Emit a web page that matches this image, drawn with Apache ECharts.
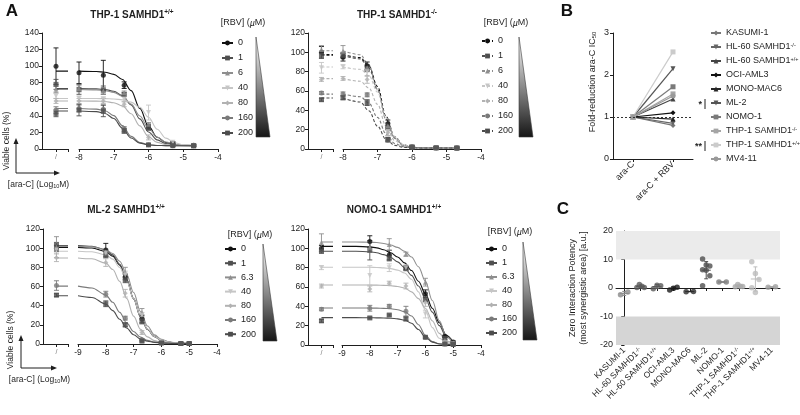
<!DOCTYPE html>
<html>
<head>
<meta charset="utf-8">
<script src="https://cdn.jsdelivr.net/npm/echarts@6/dist/echarts.min.js"></script>
<style>
  html, body { margin: 0; padding: 0; background: #fff; }
  #chart { width: 800px; height: 415px; }
</style>
</head>
<body>
<div id="chart"></div>
<script>
const FONT = '"Liberation Sans", Arial, Helvetica, sans-serif';
const INK = '#1e1e1e';

// ---------- A: viable cells vs ara-C, one curve per ribavirin dose ----------
const dosesThp = ['0', '1', '6', '40', '80', '160', '200'];
const dosesMl = ['0', '1', '6.3', '40', '80', '160', '200'];
const araCThp = [-8, -7.3, -6.7, -6, -5.3, -4.7];   // log10 M
const araCMl = [-8, -7.3, -6.7, -6, -5.3, -5];
const fitXThp = [-8, -7.5, -7.25, -7, -6.75, -6.5, -6.25, -6, -5.75, -5.5, -5.25, -5, -4.7];
const fitXMl = [-9, -8.5, -8, -7.75, -7.5, -7.25, -7, -6.75, -6.5, -6.25, -6, -5.75, -5.5, -5.25, -5];

// THP-1 SAMHD1+/+
const thpPosCtrl = [100, 78, 72, 64, 58, 47, 43];
const thpPosCtrlSd = [22, 6, 4, 3, 3, 4, 4];
const thpPosMean = [
  [92, 89, 77, 27, 7, 4.5],
  [72, 71, 66, 25, 6, 4],
  [73, 70, 68, 30, 6, 4],
  [61, 60, 60, 44, 8, 4],
  [58, 58, 54, 14, 5, 4],
  [49, 48, 24, 5, 4, 4],
  [47, 46, 22, 5, 4, 4]
];
const thpPosSd = [
  [13, 18, 4, 3, 2, 1],
  [6, 5, 2, 2, 1, 1],
  [4, 4, 2, 2, 1, 1],
  [3, 3, 3, 9, 1, 1],
  [3, 3, 3, 3, 1, 1],
  [4, 5, 3, 1, 1, 1],
  [7, 7, 3, 1, 1, 1]
];
const thpPosFit = [
  [94, 93.5, 92.6, 90.1, 83.9, 70.4, 49, 27.6, 14.1, 7.9, 5.4, 4.5, 4.1],
  [72.9, 72.6, 71.8, 69.7, 64.4, 53.3, 36.4, 20.6, 11, 6.6, 5, 4.3, 4.1],
  [71.9, 71.4, 70.5, 68.4, 63.6, 54.2, 39.9, 25, 14.3, 8.5, 5.8, 4.7, 4.2],
  [61, 60.9, 60.8, 60.4, 59.3, 56.6, 50.2, 38.3, 23.9, 13.1, 7.6, 5.3, 4.3],
  [58, 57.8, 57.3, 55.9, 52, 42.6, 27.9, 14.9, 8, 5.3, 4.4, 4.1, 4],
  [48.9, 48.1, 46.2, 40.3, 28.2, 15.2, 7.8, 5.2, 4.3, 4.1, 4, 4, 4],
  [45.9, 45.1, 42.9, 36.8, 25, 13.2, 7.1, 4.9, 4.3, 4.1, 4, 4, 4]
];

// THP-1 SAMHD1-/-
const thpNegCtrl = [100, 97, 103, 84, 72, 58, 51];
const thpNegCtrlSd = [6, 3, 4, 5.5, 2, 1.5, 1.5];
const thpNegMean = [
  [95, 86, 26, 2, 1.5, 1],
  [97, 83, 22, 2, 1.5, 1],
  [101, 84, 24, 2.5, 1.5, 1],
  [85, 80, 18, 2, 1, 1],
  [73, 72, 17, 2, 1, 1],
  [57, 56, 9, 2, 1, 1],
  [53, 48, 10, 2, 1, 1]
];
const thpNegSd = [
  [4, 4, 4, 1, 1, 1],
  [3, 3, 2, 1, 1, 1],
  [6, 3, 3, 1, 1, 1],
  [2, 5, 4, 1, 1, 1],
  [2, 4, 3, 1, 1, 1],
  [2, 2, 2, 1, 1, 1],
  [2, 3, 2, 1, 1, 1]
];
const thpNegFit = [
  [97.7, 94.5, 86, 64.6, 33.4, 12.5, 4.3, 1.9, 1.2, 1, 1, 1, 1],
  [96.7, 93.2, 83.8, 61.4, 31, 11.3, 4, 1.8, 1.2, 1, 1, 1, 1],
  [101.7, 97.5, 87, 61.8, 30.2, 10.8, 3.8, 1.8, 1.2, 1, 1, 1, 1],
  [84.8, 82.4, 76, 58.9, 32.2, 12.5, 4.4, 1.9, 1.2, 1, 1, 1, 1],
  [72.8, 70.1, 63.1, 46.3, 23.5, 8.7, 3.2, 1.6, 1.1, 1, 1, 1, 1],
  [56.8, 54.1, 47.5, 32.7, 15.4, 5.7, 2.3, 1.4, 1.1, 1, 1, 1, 1],
  [52.7, 48.6, 39.6, 23.6, 9.8, 3.7, 1.7, 1.2, 1, 1, 1, 1, 1]
];

// ML-2 SAMHD1+/+
const ml2Ctrl = [100, 103, 101, 98, 90, 61, 51];
const ml2CtrlSd = [3, 3, 11, 3, 4, 5, 1.5];
const ml2Mean = [
  [98, 70, 26, 1.5, 0.5, 0.5],
  [93, 67, 24, 1.5, 0.5, 0.5],
  [96, 75, 33, 2, 0.5, 0.5],
  [95, 72, 30, 1.5, 0.5, 0.5],
  [85, 53, 12, 1, 0.5, 0.5],
  [52, 27, 4, 1, 0.5, 0.5],
  [42, 20, 3, 1, 0.5, 0.5]
];
const ml2Sd = [
  [7, 3, 4, 1, 0.5, 0.5],
  [3, 3, 3, 1, 0.5, 0.5],
  [3, 5, 4, 1, 0.5, 0.5],
  [3, 4, 3, 1, 0.5, 0.5],
  [4, 4, 2, 1, 0.5, 0.5],
  [3, 2, 1, 1, 0.5, 0.5],
  [3, 2, 1, 1, 0.5, 0.5]
];
const ml2Fit = [
  [100.8, 100.1, 96.6, 91.7, 82.3, 66.9, 47.5, 28.6, 15.4, 8, 3.9, 2.1, 1.2, 0.8, 0.6],
  [102.8, 102, 98.3, 93, 83.2, 67.2, 46.8, 28.3, 15.1, 7.6, 3.8, 2, 1.2, 0.8, 0.6],
  [101.9, 101.3, 98.4, 94.4, 86.4, 72.7, 53.7, 33.9, 18.8, 9.5, 4.8, 2.4, 1.4, 0.9, 0.7],
  [96.8, 96.2, 93, 88.6, 80, 65.7, 47.2, 28.9, 15.7, 7.9, 4, 2, 1.2, 0.8, 0.6],
  [89.8, 88.9, 84.4, 77.7, 65.4, 47.6, 29.1, 15.3, 7.4, 3.5, 1.8, 1.1, 0.7, 0.6, 0.5],
  [60.4, 58.5, 51.2, 43.5, 33, 22, 13, 7.2, 3.8, 2.1, 1.3, 0.9, 0.7, 0.6, 0.5],
  [50.4, 48.6, 41.8, 34.8, 25.8, 16.7, 9.7, 5.3, 2.9, 1.7, 1.1, 0.8, 0.6, 0.55, 0.5]
];

// NOMO-1 SAMHD1+/+
const nomoCtrl = [100, 97, 106, 80, 61, 37, 25];
const nomoCtrlSd = [3, 2, 9, 2, 2, 1.5, 1.5];
const nomoMean = [
  [107, 93, 80, 53, 9, 3],
  [98, 90, 79, 48, 7, 2],
  [101, 104, 94, 65, 5, 1.5],
  [72, 80, 80, 32, 2, 1],
  [58, 64, 61, 44, 2, 1],
  [38, 40, 35, 8, 1, 0.5],
  [28, 31, 27, 8, 1, 0.5]
];
const nomoSd = [
  [6, 5, 2, 4, 1, 1],
  [10, 3, 2, 3, 1, 1],
  [5, 6, 2, 4, 1, 1],
  [10, 4, 3, 4, 1, 1],
  [3, 2, 3, 4, 1, 1],
  [3, 2, 5, 1, 1, 0.5],
  [1, 1, 2, 1, 1, 0.5]
];
const nomoFit = [
  [102, 102, 101.5, 100.5, 98.5, 95.5, 91, 85, 77, 66, 53, 38, 23, 10, 3],
  [97, 97, 96.5, 95.5, 93.5, 90.5, 86, 80, 72, 61, 48, 34, 20, 8.5, 2.5],
  [106.5, 106.5, 106.3, 106, 105, 103.5, 101, 97, 91, 81, 66, 46, 25, 9, 2],
  [80.5, 80.5, 80.4, 80.2, 79.8, 79, 77.5, 74.5, 68, 55, 36, 18, 7, 2.5, 1],
  [62, 62, 62, 61.9, 61.7, 61.3, 60.5, 59, 55, 48, 38, 25, 12, 4, 1.5],
  [38.3, 38.3, 38.2, 38.1, 37.9, 37.5, 36.5, 34.5, 30, 21, 10, 3.5, 1.3, 0.7, 0.5],
  [28.3, 28.3, 28.2, 28.1, 28, 27.7, 27, 25.8, 22.5, 16, 8, 3, 1.1, 0.6, 0.5]
];

// ---------- B: fold-reduction of ara-C IC50 ----------
const cellLines = ['KASUMI-1', 'HL-60 SAMHD1-/-', 'HL-60 SAMHD1+/+', 'OCI-AML3', 'MONO-MAC6',
  'ML-2', 'NOMO-1', 'THP-1 SAMHD1-/-', 'THP-1 SAMHD1+/+', 'MV4-11'];
const foldCats = ['ara-C', 'ara-C + RBV'];
const foldAraC = [1, 1, 1, 1, 1, 1, 1, 1, 1, 1];
const foldAraCRbv = [0.8, 0.85, 1.43, 1.1, 0.95, 2.15, 1.72, 1.55, 2.55, 1.5];

// ---------- C: ZIP synergy scores ----------
const zipScores = [
  [-2.4, -1.4],
  [0.2, 1.2, 0.6, 0.2],
  [-0.3, 1.0, 0.8],
  [-0.7, -0.1, 0.3],
  [-1.3, -1.2],
  [10.2, 8.1, 7.7, 6.4, 6.2, 4.3, 0.8],
  [2.1, 2.1],
  [0.4, 1.2, 0.6, 0.5],
  [9.2, 5.1, 3.0, 0.1, -1.6],
  [0.3, 0.4]
];

// ---------- styles & layout ----------
const doseColor = ['#111111', '#4f4f4f', '#8e8e8e', '#c6c6c6', '#b2b2b2', '#7a7a7a', '#4c4c4c'];
const doseSymbol = ['circle', 'rect', 'triangle', 'triangle', 'diamond', 'circle', 'rect'];
const doseRotate = [0, 0, 0, 180, 0, 0, 0];
const lineColor = ['#777777', '#666666', '#444444', '#111111', '#262626', '#555555', '#7a7a7a', '#a5a5a5', '#cbcbcb', '#999999'];
const lineSymbol = ['diamond', 'triangle', 'triangle', 'diamond', 'triangle', 'triangle', 'rect', 'rect', 'rect', 'circle'];
const lineRotate = [0, 180, 0, 0, 0, 180, 0, 0, 0, 0];
const zipColor = ['#8a8a8a', '#5a5a5a', '#5a5a5a', '#1a1a1a', '#2a2a2a', '#4d4d4d', '#7a7a7a', '#aaaaaa', '#bdbdbd', '#a0a0a0'];

const CTRL_X = -10, CTRL_LO = -10.7, CTRL_HI = -9.4;

const panelsA = [
  { key: 'TL', title: 'THP-1 SAMHD1', sup: '+/+', doses: dosesThp, x: araCThp, fitX: fitXThp, ctrl: thpPosCtrl, ctrlSd: thpPosCtrlSd, mean: thpPosMean, sd: thpPosSd, fit: thpPosFit, xMin: -8, yMax: 140, dashed: false },
  { key: 'TR', title: 'THP-1 SAMHD1', sup: '-/-', doses: dosesThp, x: araCThp, fitX: fitXThp, ctrl: thpNegCtrl, ctrlSd: thpNegCtrlSd, mean: thpNegMean, sd: thpNegSd, fit: thpNegFit, xMin: -8, yMax: 120, dashed: true },
  { key: 'BL', title: 'ML-2 SAMHD1', sup: '+/+', doses: dosesMl, x: araCMl, fitX: fitXMl, ctrl: ml2Ctrl, ctrlSd: ml2CtrlSd, mean: ml2Mean, sd: ml2Sd, fit: ml2Fit, xMin: -9, yMax: 120, dashed: false },
  { key: 'BR', title: 'NOMO-1 SAMHD1', sup: '+/+', doses: dosesMl, x: araCMl, fitX: fitXMl, ctrl: nomoCtrl, ctrlSd: nomoCtrlSd, mean: nomoMean, sd: nomoSd, fit: nomoFit, xMin: -9, yMax: 120, dashed: false }
];
const layoutA = [
  { ctrl: [42, 68], main: [79, 218], y: [33, 149], title: [132, 15], leg: [221, 38], gap: 5, rbv: [243, 23], tri: [256, 37, 137] },
  { ctrl: [308, 333], main: [343, 481], y: [33, 149], title: [397, 15], leg: [481, 36], gap: 5, rbv: [506, 23], tri: [519, 37, 137] },
  { ctrl: [43, 68], main: [78, 217], y: [229, 344], title: [126, 210], leg: [224, 244], gap: 4.2, rbv: [250, 235], tri: [263, 244, 341] },
  { ctrl: [308, 333], main: [342, 481], y: [229, 345], title: [394, 210], leg: [485, 244], gap: 4, rbv: [510, 232], tri: [523, 242, 340] }
];

const supFmt = s => s.replace(/(\+\/\+|-\/-)$/, '{s|$1}');
const axisLine = { show: true, lineStyle: { color: INK, width: 1 } };
const axisTick = { show: true, length: 3, lineStyle: { color: INK, width: 1 } };

function errorBars(axisIndex, rows, color) {
  return {
    type: 'custom', xAxisIndex: axisIndex, yAxisIndex: axisIndex, data: rows, silent: true, z: 3,
    renderItem: (params, api) => {
      const x = api.value(0), y = api.value(1), e = api.value(2);
      if (!(e > 0)) return;
      const hi = api.coord([x, y + e]), lo = api.coord([x, y - e]);
      const st = { stroke: color, lineWidth: 0.9 };
      return { type: 'group', children: [
        { type: 'line', shape: { x1: hi[0], y1: hi[1], x2: lo[0], y2: lo[1] }, style: st },
        { type: 'line', shape: { x1: hi[0] - 2.5, y1: hi[1], x2: hi[0] + 2.5, y2: hi[1] }, style: st },
        { type: 'line', shape: { x1: lo[0] - 2.5, y1: lo[1], x2: lo[0] + 2.5, y2: lo[1] }, style: st }
      ] };
    }
  };
}

const option = {
  animation: false,
  backgroundColor: '#ffffff',
  textStyle: { fontFamily: FONT },
  grid: [], xAxis: [], yAxis: [], series: [], legend: [], graphic: []
};

const gradient = () => new echarts.graphic.LinearGradient(0, 0, 0, 1, [
  { offset: 0, color: '#ffffff' }, { offset: 1, color: '#151515' }
]);

panelsA.forEach((p, i) => {
  const L = layoutA[i];
  const gc = option.grid.length, gm = gc + 1;
  const h = L.y[1] - L.y[0];
  option.grid.push({ left: L.ctrl[0], top: L.y[0], width: L.ctrl[1] - L.ctrl[0], height: h, outerBoundsMode: 'none' });
  option.grid.push({ left: L.main[0], top: L.y[0], width: L.main[1] - L.main[0], height: h, outerBoundsMode: 'none' });
  option.xAxis.push({
    gridIndex: gc, type: 'value', min: CTRL_LO, max: CTRL_HI, axisLine,
    axisTick: Object.assign({}, axisTick, { customValues: [CTRL_X, CTRL_HI] }),
    axisLabel: { customValues: [CTRL_X], formatter: () => '/', fontSize: 7, color: '#777', margin: 5 },
    splitLine: { show: false }
  });
  option.xAxis.push({
    gridIndex: gm, type: 'value', min: p.xMin, max: -4, interval: 1, axisLine, axisTick,
    axisLabel: { fontSize: 8.5, color: INK, margin: 4, showMinLabel: true, showMaxLabel: true },
    splitLine: { show: false }
  });
  option.yAxis.push({
    gridIndex: gc, type: 'value', min: 0, max: p.yMax, interval: 20, axisLine, axisTick,
    axisLabel: { fontSize: 8.5, color: INK, margin: 3, showMaxLabel: true }, splitLine: { show: false }
  });
  option.yAxis.push({ gridIndex: gm, type: 'value', min: 0, max: p.yMax, show: false });

  p.doses.forEach((dose, k) => {
    const col = doseColor[k], sym = doseSymbol[k], rot = doseRotate[k];
    const ls = { color: col, width: 1.1, type: p.dashed ? [3, 2] : 'solid' };
    const top = p.fit[k][0];
    option.series.push({
      name: p.key + '|' + dose, type: 'line', xAxisIndex: gm, yAxisIndex: gm,
      data: p.fitX.map((x, j) => [x, p.fit[k][j]]),
      smooth: 0.35, smoothMonotone: 'x', showSymbol: false, symbol: sym, symbolRotate: rot, symbolSize: 5,
      lineStyle: ls, itemStyle: { color: col }, silent: true, z: 2
    });
    option.series.push({
      type: 'line', xAxisIndex: gc, yAxisIndex: gc, data: [[CTRL_X, top], [CTRL_HI, top]],
      showSymbol: false, symbol: 'none', lineStyle: ls, silent: true, z: 2
    });
    option.series.push({
      type: 'scatter', xAxisIndex: gm, yAxisIndex: gm, data: p.x.map((x, j) => [x, p.mean[k][j]]),
      symbol: sym, symbolRotate: rot, symbolSize: 5, itemStyle: { color: col }, silent: true, z: 4
    });
    option.series.push({
      type: 'scatter', xAxisIndex: gc, yAxisIndex: gc, data: [[CTRL_X, p.ctrl[k]]],
      symbol: sym, symbolRotate: rot, symbolSize: 5, itemStyle: { color: col }, silent: true, z: 4
    });
    option.series.push(errorBars(gm, p.x.map((x, j) => [x, p.mean[k][j], p.sd[k][j]]), col));
    option.series.push(errorBars(gc, [[CTRL_X, p.ctrl[k], p.ctrlSd[k]]], col));
  });

  option.legend.push({
    orient: 'vertical', left: L.leg[0], top: L.leg[1], itemWidth: 11, itemHeight: 6, itemGap: L.gap,
    padding: 0, selectedMode: false, data: p.doses.map(d => p.key + '|' + d),
    formatter: n => n.split('|')[1],
    textStyle: { fontSize: 9, lineHeight: 10, color: INK, fontFamily: FONT }
  });

  option.graphic.push({
    type: 'text', x: L.title[0], y: L.title[1], silent: true,
    style: {
      text: '{b|' + p.title + '}{s|' + p.sup + '}', align: 'center', verticalAlign: 'middle',
      rich: {
        b: { fontSize: 10, fontWeight: 'bold', fontFamily: FONT, fill: INK, lineHeight: 12 },
        s: { fontSize: 6.5, fontWeight: 'bold', fontFamily: FONT, fill: INK, lineHeight: 7, verticalAlign: 'top' }
      }
    }
  });
  option.graphic.push({
    type: 'text', x: L.rbv[0], y: L.rbv[1], silent: true,
    style: {
      text: '[RBV] ({i|µ}M)', align: 'center', verticalAlign: 'middle', fontSize: 9, fontFamily: FONT, fill: INK,
      rich: { i: { fontSize: 9, fontStyle: 'italic', fontFamily: FONT, fill: INK } }
    }
  });
  const t = L.tri;
  option.graphic.push({
    type: 'polygon', silent: true,
    shape: { points: [[t[0], t[1]], [t[0], t[2]], [t[0] + 14, t[2]]] },
    style: { fill: gradient(), stroke: '#3a3a3a', lineWidth: 0.6 }
  });
});

// "Viable cells / [ara-C]" key arrows next to the left-hand panels
function axisKey(ox, oy, up, right, tx, ty) {
  const st = { stroke: INK, lineWidth: 1 };
  return [
    { type: 'line', silent: true, shape: { x1: ox, y1: oy, x2: ox, y2: up + 3 }, style: st },
    { type: 'polygon', silent: true, shape: { points: [[ox, up - 1], [ox - 2.5, up + 5], [ox + 2.5, up + 5]] }, style: { fill: INK } },
    { type: 'line', silent: true, shape: { x1: ox, y1: oy, x2: right - 3, y2: oy }, style: st },
    { type: 'polygon', silent: true, shape: { points: [[right + 1, oy], [right - 5, oy - 2.5], [right - 5, oy + 2.5]] }, style: { fill: INK } },
    { type: 'text', silent: true, x: tx, y: ty, rotation: Math.PI / 2,
      style: { text: 'Viable cells (%)', align: 'center', verticalAlign: 'middle', fontSize: 8.5, fontFamily: FONT, fill: INK } },
    { type: 'text', silent: true, x: (ox + right) / 2 + 1, y: oy + 12,
      style: { text: '[ara-C] (Log{sub|10}M)', align: 'center', verticalAlign: 'middle', fontSize: 8.5, fontFamily: FONT, fill: INK,
        rich: { sub: { fontSize: 5.5, fontFamily: FONT, fill: INK, verticalAlign: 'bottom', lineHeight: 5 } } } }
  ];
}
option.graphic.push(...axisKey(16, 173, 139, 59, 7, 141));
option.graphic.push(...axisKey(21, 368, 336, 56, 11, 340));

// ---------- B ----------
const gB = option.grid.length;
option.grid.push({ left: 613, top: 33, width: 80, height: 126, outerBoundsMode: 'none' });
option.xAxis.push({
  gridIndex: gB, type: 'category', data: foldCats, boundaryGap: true, axisLine,
  axisTick: Object.assign({}, axisTick, { alignWithLabel: true }),
  axisLabel: { rotate: 45, fontSize: 9, color: INK, margin: 4, interval: 0 }
});
option.yAxis.push({
  gridIndex: gB, type: 'value', min: 0, max: 3, interval: 1, axisLine, axisTick,
  axisLabel: { fontSize: 9, color: INK, margin: 4 }, splitLine: { show: false }
});
cellLines.forEach((name, i) => {
  const s = {
    name, type: 'line', xAxisIndex: gB, yAxisIndex: gB, data: [foldAraC[i], foldAraCRbv[i]],
    symbol: lineSymbol[i], symbolRotate: lineRotate[i], symbolSize: 5, showSymbol: true,
    lineStyle: { color: lineColor[i], width: 1.2 }, itemStyle: { color: lineColor[i] }, silent: true, z: 3
  };
  if (i === 0) {
    s.markLine = { silent: true, symbol: 'none', label: { show: false },
      lineStyle: { type: [2, 2], color: '#333', width: 1 }, data: [{ yAxis: 1 }] };
  }
  option.series.push(s);
});
option.legend.push({
  orient: 'vertical', left: 710, top: 28, itemWidth: 10, itemHeight: 6, itemGap: 4, padding: 0,
  selectedMode: false, data: cellLines, formatter: supFmt,
  textStyle: { fontSize: 9, lineHeight: 10, color: INK, fontFamily: FONT,
    rich: { s: { fontSize: 5.5, color: INK, fontFamily: FONT, verticalAlign: 'top', lineHeight: 5 } } }
});

// ---------- C ----------
const gC = option.grid.length;
option.grid.push({ left: 616, top: 231, width: 164, height: 114, outerBoundsMode: 'none' });
const xcCat = option.xAxis.length;
option.xAxis.push({
  gridIndex: gC, type: 'category', data: cellLines, boundaryGap: true, axisLine,
  axisTick: Object.assign({}, axisTick, { alignWithLabel: true }),
  axisLabel: { rotate: 45, fontSize: 8.5, color: INK, margin: 4, interval: 0, formatter: supFmt,
    rich: { s: { fontSize: 5.5, color: INK, fontFamily: FONT, verticalAlign: 'top', lineHeight: 5 } } }
});
const xcVal = option.xAxis.length;
option.xAxis.push({ gridIndex: gC, type: 'value', min: -0.5, max: 9.5, show: false });
const ycIdx = option.yAxis.length;
option.yAxis.push({
  gridIndex: gC, type: 'value', min: -20, max: 20, interval: 10, axisLine, axisTick,
  axisLabel: { fontSize: 9, color: INK, margin: 3 }, splitLine: { show: false }
});

const spread = (n, j) => n === 1 ? 0 : (n <= 4 ? (j / (n - 1) - 0.5) * 0.45 : ((j % 3) - 1) * 0.22);
const zipPoints = [];
zipScores.forEach((vals, i) => vals.forEach((v, j) => {
  zipPoints.push({ value: [i + spread(vals.length, j), v], itemStyle: { color: zipColor[i] } });
}));
const meanOf = a => a.reduce((s, v) => s + v, 0) / a.length;
const sdOf = a => { const m = meanOf(a); return Math.sqrt(a.reduce((s, v) => s + (v - m) * (v - m), 0) / (a.length - 1)); };

option.series.push({
  type: 'scatter', xAxisIndex: xcVal, yAxisIndex: ycIdx, data: zipPoints, symbolSize: 5.5, silent: true, z: 4,
  markArea: { silent: true, data: [
    [{ yAxis: 10, itemStyle: { color: '#ebebeb' } }, { yAxis: 20 }],
    [{ yAxis: -20, itemStyle: { color: '#d5d5d5' } }, { yAxis: -10 }]
  ] }
});
option.series.push({
  type: 'custom', xAxisIndex: xcVal, yAxisIndex: ycIdx, silent: true, z: 3,
  data: zipScores.map((v, i) => [i, meanOf(v), sdOf(v)]),
  renderItem: (params, api) => {
    const i = api.value(0), m = api.value(1), s = api.value(2);
    const c = zipColor[params.dataIndex];
    const st = { stroke: c, lineWidth: 1 };
    const a = api.coord([i - 0.28, m]), b = api.coord([i + 0.28, m]);
    const hi = api.coord([i, m + s]), lo = api.coord([i, m - s]);
    const cw = api.size([0.12, 0])[0];
    return { type: 'group', children: [
      { type: 'line', shape: { x1: a[0], y1: a[1], x2: b[0], y2: b[1] }, style: st },
      { type: 'line', shape: { x1: hi[0], y1: hi[1], x2: lo[0], y2: lo[1] }, style: st },
      { type: 'line', shape: { x1: hi[0] - cw, y1: hi[1], x2: hi[0] + cw, y2: hi[1] }, style: st },
      { type: 'line', shape: { x1: lo[0] - cw, y1: lo[1], x2: lo[0] + cw, y2: lo[1] }, style: st }
    ] };
  }
});

// ---------- labels ----------
const letter = (t, x, y) => ({ type: 'text', x, y, silent: true,
  style: { text: t, fontSize: 17, fontWeight: 'bold', fontFamily: FONT, fill: '#111', align: 'center', verticalAlign: 'middle' } });
option.graphic.push(letter('A', 12, 11), letter('B', 567, 11), letter('C', 563, 209));

option.graphic.push({
  type: 'text', x: 593, y: 82, rotation: Math.PI / 2, silent: true,
  style: { text: 'Fold-reduction ara-C IC{sub|50}', align: 'center', verticalAlign: 'middle', fontSize: 9, fontFamily: FONT, fill: INK,
    rich: { sub: { fontSize: 6, fontFamily: FONT, fill: INK, verticalAlign: 'bottom', lineHeight: 6 } } }
});
option.graphic.push({
  type: 'text', x: 578, y: 288, rotation: Math.PI / 2, silent: true,
  style: { text: 'Zero Interaction Potency\n(most synergistic area) [a.u.]', align: 'center', verticalAlign: 'middle',
    fontSize: 9, lineHeight: 11, fontFamily: FONT, fill: INK }
});
// significance marks beside the legend rows of ML-2 and THP-1 SAMHD1+/+
[[104, '*'], [146, '**']].forEach(([y, mark]) => {
  option.graphic.push({ type: 'text', x: 702, y: y + 1, silent: true,
    style: { text: mark, align: 'right', verticalAlign: 'middle', fontSize: 9, fontWeight: 'bold', fontFamily: FONT, fill: INK } });
  option.graphic.push({ type: 'line', silent: true, shape: { x1: 705, y1: y - 5, x2: 705, y2: y + 5 }, style: { stroke: INK, lineWidth: 1 } });
});

const chart = echarts.init(document.getElementById('chart'), null, { renderer: 'canvas' });
chart.setOption(option);
</script>
</body>
</html>
